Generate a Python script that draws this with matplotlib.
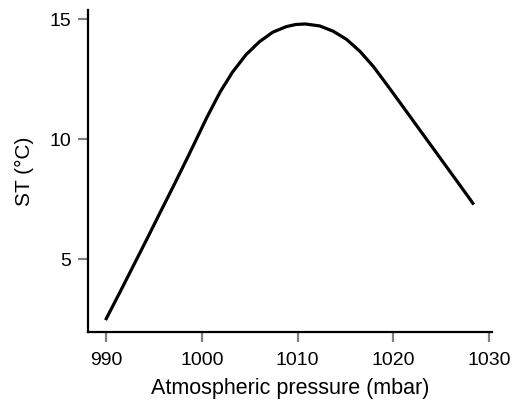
import matplotlib
matplotlib.use("Agg")
from matplotlib import pyplot as plt

# values
pressure = [990.0, 991.4, 992.8, 994.2, 995.6, 997.0, 998.4, 999.2, 1000.5,
            1001.9, 1003.2, 1004.6, 1006.0, 1007.4, 1008.8, 1009.8, 1010.8,
            1012.3, 1013.7, 1015.1, 1016.5, 1017.9, 1019.3, 1020.6, 1022.0,
            1023.4, 1024.8, 1026.2, 1027.6, 1028.3]
st = [2.52, 3.60, 4.70, 5.80, 6.92, 8.03, 9.16, 9.82, 10.90,
      11.97, 12.80, 13.52, 14.06, 14.46, 14.69, 14.78, 14.80,
      14.72, 14.50, 14.16, 13.66, 13.03, 12.28, 11.57, 10.80,
      10.03, 9.26, 8.49, 7.72, 7.33]
xticks = [990, 1000, 1010, 1020, 1030]
yticks = [5, 10, 15]

plt.rcParams['font.family'] = ['Liberation Sans', 'DejaVu Sans']

fig = plt.figure(figsize=(5.12, 4.08), dpi=100)
ax = fig.add_axes([0.172, 0.186, 0.789, 0.789])

ax.plot(pressure, st, color='black', lw=2.3, solid_joinstyle='round')

ax.set_xlim(988.1, 1030.3)
ax.set_ylim(1.96, 15.375)
ax.set_xticks(xticks)
ax.set_yticks(yticks)

ax.spines['top'].set_visible(False)
ax.spines['right'].set_visible(False)
for s in ['left', 'bottom']:
    ax.spines[s].set_linewidth(1.6)
ax.tick_params(axis='both', direction='out', length=7, width=1.6,
               color='gray', labelsize=14)
ax.tick_params(axis='x', pad=7)
ax.tick_params(axis='y', pad=5)

ax.set_xlabel('Atmospheric pressure (mbar)', fontsize=15.5, labelpad=7)
ax.set_ylabel('ST (°C)', fontsize=15, labelpad=11)

plt.savefig('out.png', dpi=100)
